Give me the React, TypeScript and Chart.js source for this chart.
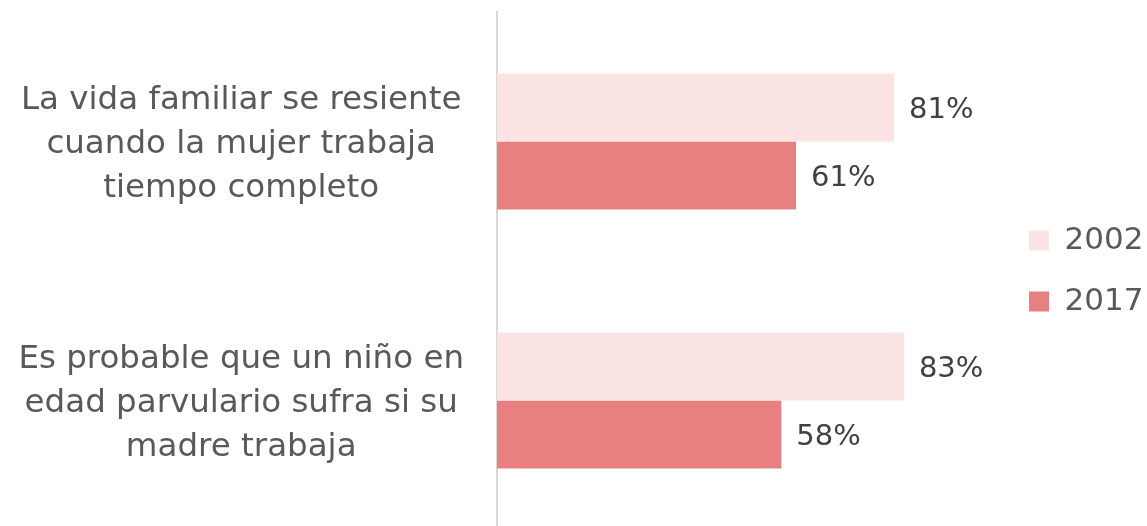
import React, { useEffect, useRef } from "react";
import { Chart, registerables } from "chart.js";

Chart.register(...registerables);

const categories: string[][] = [
  ["La vida familiar se resiente", "cuando la mujer trabaja", "tiempo completo"],
  ["Es probable que un niño en", "edad parvulario sufra si su", "madre trabaja"],
];
const seriesNames = ["2002", "2017"];
const values2002 = [81, 83];
const values2017 = [61, 58];
const X_MAX = 102.4;

const FONT = "'DejaVu Sans', Verdana, sans-serif";

const dataLabelPlugin = {
  id: "dataLabels",
  afterDatasetsDraw(chart: any) {
    const ctx = chart.ctx;
    ctx.save();
    ctx.font = `29px ${FONT}`;
    ctx.fillStyle = "#404040";
    ctx.textAlign = "left";
    ctx.textBaseline = "middle";
    chart.data.datasets.forEach((ds: any, di: number) => {
      const meta = chart.getDatasetMeta(di);
      meta.data.forEach((el: any, i: number) => {
        ctx.fillText(`${ds.data[i]}%`, el.x + 15, el.y + 3);
      });
    });
    ctx.restore();
  },
};

export default function App() {
  const ref = useRef<HTMLCanvasElement>(null);
  useEffect(() => {
    if (!ref.current) return;
    const chart = new Chart(ref.current, {
      type: "bar",
      data: {
        labels: categories,
        datasets: [
          {
            label: seriesNames[0],
            data: values2002,
            backgroundColor: "#fde4e4",
            categoryPercentage: 0.525,
            barPercentage: 1,
          },
          {
            label: seriesNames[1],
            data: values2017,
            backgroundColor: "#e98080",
            categoryPercentage: 0.525,
            barPercentage: 1,
          },
        ],
      },
      options: {
        indexAxis: "y",
        animation: false,
        responsive: true,
        maintainAspectRatio: false,
        layout: { padding: { top: 12, bottom: 0, left: 0, right: -6.4 } },
        plugins: {
          tooltip: { enabled: false },
          legend: {
            position: "right",
            align: "center",
            labels: {
              boxWidth: 20,
              boxHeight: 20,
              padding: 30,
              color: "#595959",
              font: { family: FONT, size: 31 },
            },
          },
        },
        scales: {
          x: {
            display: false,
            min: 0,
            max: X_MAX,
          },
          y: {
            afterFit: (scale: any) => {
              scale.width = 497;
              scale.paddingTop = 0;
              scale.paddingBottom = 0;
            },
            grid: { display: false, drawTicks: false },
            border: { display: true, color: "#d9d9d9", width: 2 },
            ticks: {
              crossAlign: "center",
              padding: 33,
              labelOffset: 3,
              color: "#595959",
              font: { family: FONT, size: 32.5, lineHeight: 1.36 },
            },
          },
        },
      },
      plugins: [dataLabelPlugin],
    });
    return () => chart.destroy();
  }, []);
  return (
    <div style={{ position: "fixed", left: 0, top: 0, width: 1147, height: 530, background: "#fff", overflow: "hidden" }}>
      <canvas ref={ref} />
    </div>
  );
}
